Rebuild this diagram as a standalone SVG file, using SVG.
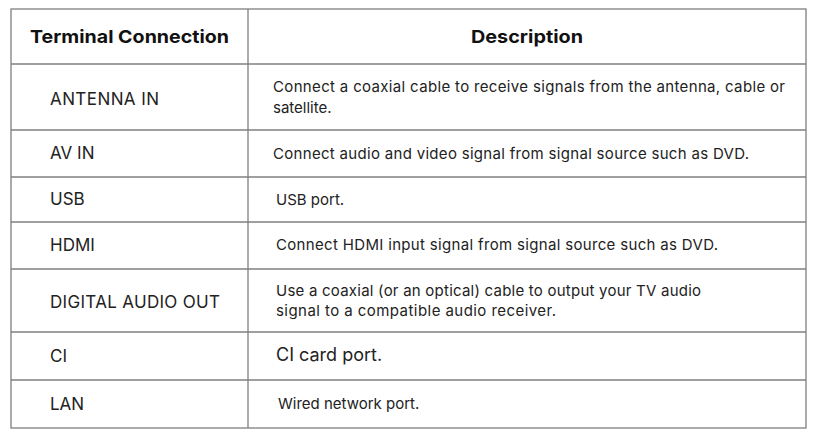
<svg xmlns="http://www.w3.org/2000/svg" width="823" height="438" viewBox="0 0 823 438">
<style>
.l{stroke:#7f7f7f;stroke-width:1.3;fill:none}
.h{font-family:"Inter","Liberation Sans",sans-serif;font-weight:bold;font-size:18px;fill:#111}
.t{font-family:"Inter","Liberation Sans",sans-serif;font-size:17px;fill:#222}
.d{font-family:"Inter","Liberation Sans",sans-serif;font-size:15px;fill:#222}
</style>
<rect width="823" height="438" fill="#fff"/>
<g id="grid">
<rect class="l" x="11" y="9" width="795" height="419"/>
<line class="l" x1="248" y1="9" x2="248" y2="428"/>
<line class="l" x1="11" y1="64" x2="806" y2="64"/>
<line class="l" x1="11" y1="130" x2="806" y2="130"/>
<line class="l" x1="11" y1="177" x2="806" y2="177"/>
<line class="l" x1="11" y1="222" x2="806" y2="222"/>
<line class="l" x1="11" y1="269" x2="806" y2="269"/>
<line class="l" x1="11" y1="332" x2="806" y2="332"/>
<line class="l" x1="11" y1="380" x2="806" y2="380"/>
</g>
<g id="header">
<text class="h" x="30" y="43" textLength="199" lengthAdjust="spacingAndGlyphs">Terminal Connection</text>
<text class="h" x="471" y="43" textLength="112" lengthAdjust="spacingAndGlyphs">Description</text>
</g>
<g id="r1"><text class="t" x="50" y="105" textLength="109">ANTENNA IN</text>
<text class="d" x="273" y="92" textLength="512">Connect a coaxial cable to receive signals from the antenna, cable or</text>
<text class="d" x="273" y="113">satellite.</text></g>
<g id="r2"><text class="t" x="50" y="159">AV IN</text>
<text class="d" x="273" y="159" textLength="476">Connect audio and video signal from signal source such as DVD.</text></g>
<g id="r3"><text class="t" x="50" y="205">USB</text>
<text class="d" x="276" y="205">USB port.</text></g>
<g id="r4"><text class="t" x="50" y="251">HDMI</text>
<text class="d" x="276" y="250" textLength="442">Connect HDMI input signal from signal source such as DVD.</text></g>
<g id="r5"><text class="t" x="50" y="308" textLength="170">DIGITAL AUDIO OUT</text>
<text class="d" x="276" y="296" textLength="425">Use a coaxial (or an optical) cable to output your TV audio</text>
<text class="d" x="276" y="316" textLength="280">signal to a  compatible audio receiver.</text></g>
<g id="r6"><text class="t" x="50" y="362">CI</text>
<text class="t" x="276" y="361" style="font-size:18px">CI card port.</text></g>
<g id="r7"><text class="t" x="50" y="410">LAN</text>
<text class="d" x="278" y="409">Wired network port.</text></g>
</svg>
